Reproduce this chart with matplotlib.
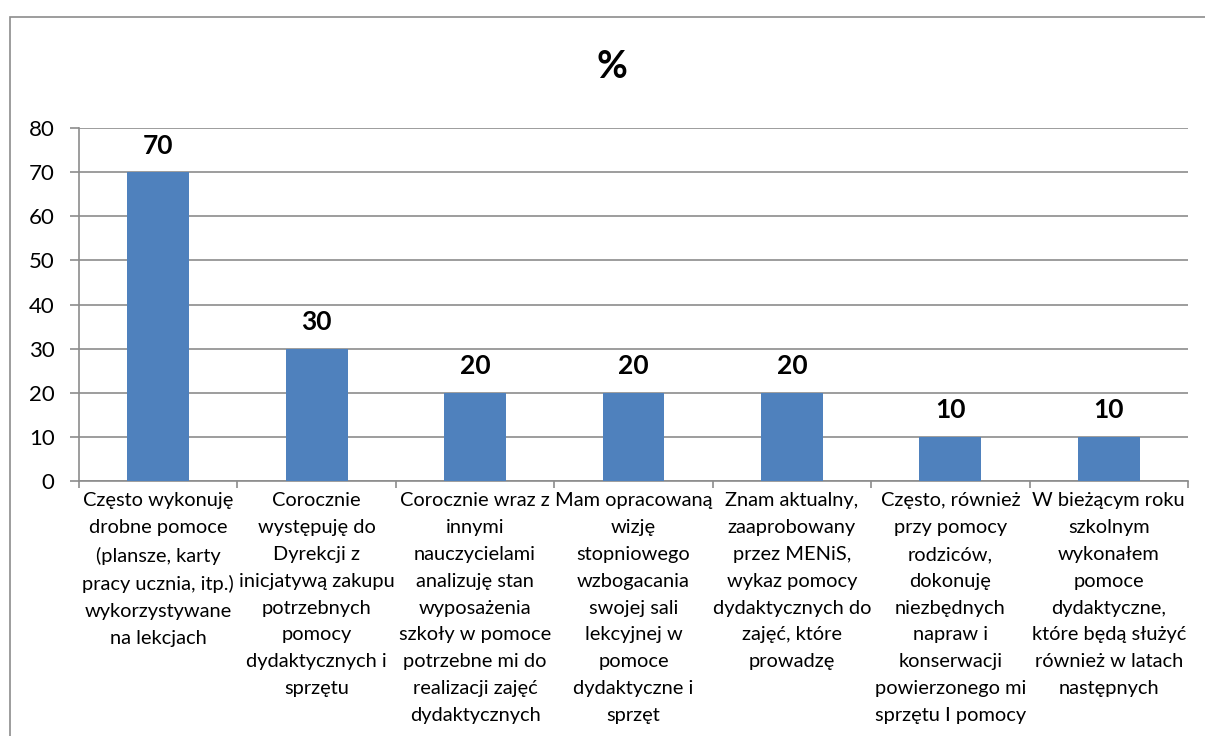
import matplotlib
matplotlib.use("Agg")
import matplotlib.pyplot as plt
from matplotlib.patches import Rectangle

categories = [
    "Często wykonuję\ndrobne pomoce\n(plansze, karty\npracy ucznia, itp.)\nwykorzystywane\nna lekcjach",
    "Corocznie\nwystępuję do\nDyrekcji z\ninicjatywą zakupu\npotrzebnych\npomocy\ndydaktycznych i\nsprzętu",
    "Corocznie wraz z\ninnymi\nnauczycielami\nanalizuję stan\nwyposażenia\nszkoły w pomoce\npotrzebne mi do\nrealizacji zajęć\ndydaktycznych",
    "Mam opracowaną\nwizję\nstopniowego\nwzbogacania\nswojej sali\nlekcyjnej w\npomoce\ndydaktyczne i\nsprzęt",
    "Znam aktualny,\nzaaprobowany\nprzez MENiS,\nwykaz pomocy\ndydaktycznych do\nzajęć, które\nprowadzę",
    "Często, również\nprzy pomocy\nrodziców,\ndokonuję\nniezbędnych\nnapraw i\nkonserwacji\npowierzonego mi\nsprzętu I pomocy",
    "W bieżącym roku\nszkolnym\nwykonałem\npomoce\ndydaktyczne,\nktóre będą służyć\nrównież w latach\nnastępnych",
]
values = [70, 30, 20, 20, 20, 10, 10]
yticks = [0, 10, 20, 30, 40, 50, 60, 70, 80]

plt.rcParams['font.family'] = ['Lato', 'DejaVu Sans']

W, H = 1205, 736
fig = plt.figure(figsize=(W / 100, H / 100), dpi=100)

# outer chart frame (only left/top visible in reference)
fig.patches.append(Rectangle((10 / W, -0.05), 1.1, (H - 17) / H + 0.05,
                             transform=fig.transFigure, fill=False,
                             edgecolor="#8c8c8c", linewidth=1.2))

ax = fig.add_axes([79 / W, 1 - 481 / H, (1188 - 79) / W, (481 - 128) / H])
x = list(range(len(values)))
ax.bar(x, values, width=0.39, color="#4f81bd", zorder=3)

ax.set_xlim(-0.5, len(values) - 0.5)
ax.set_ylim(0, 80)
ax.set_yticks(yticks)
ax.set_yticklabels([str(t) for t in yticks], fontsize=16)
ax.yaxis.grid(True, color="#8c8c8c", linewidth=1.2, zorder=0)
ax.tick_params(axis="y", length=6.5, width=1.2, color="#8c8c8c", pad=11)

for s in ["top", "right"]:
    ax.spines[s].set_visible(False)
for s in ["left", "bottom"]:
    ax.spines[s].set_color("#8c8c8c")
    ax.spines[s].set_linewidth(1.2)

# category boundary ticks
ax.set_xticks([i - 0.5 for i in range(len(values) + 1)], minor=False)
ax.set_xticklabels([])
ax.tick_params(axis="x", length=5, width=1.2, color="#8c8c8c")
for i, lab in enumerate(categories):
    ax.text(i, -2.6, lab, ha="center", va="top", fontsize=14.4,
            linespacing=1.7)

for i, v in enumerate(values):
    ax.text(i, v + 3.3, str(v), ha="center", va="bottom", fontsize=19,
            fontweight="bold")

fig.text(0.508, 1 - 67 / H, "%", ha="center", va="center", fontsize=27,
         fontweight="bold")

fig.savefig("out.png", dpi=100)
